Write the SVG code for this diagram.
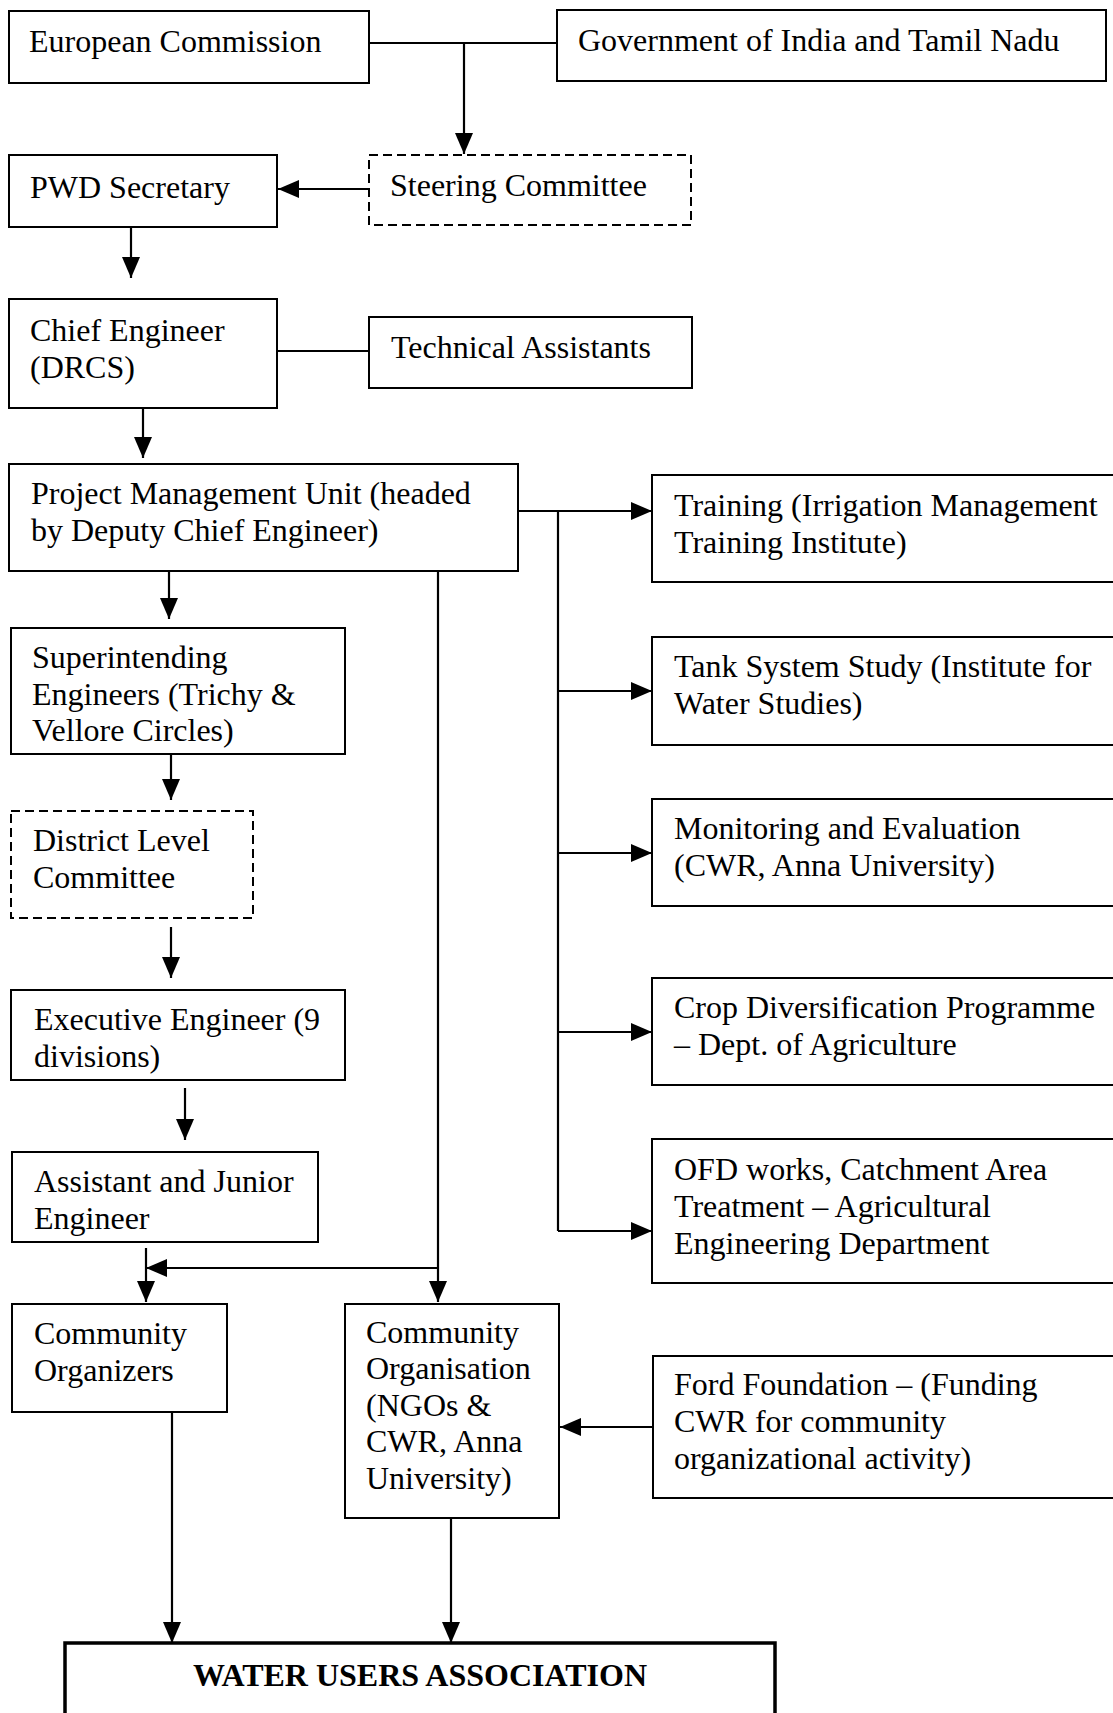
<svg xmlns="http://www.w3.org/2000/svg" width="1113" height="1713" viewBox="0 0 1113 1713">
<style>
.box{fill:#fff;stroke:#000;stroke-width:2}
.dash{fill:#fff;stroke:#000;stroke-width:2;stroke-dasharray:9 5}
.wua{fill:#fff;stroke:#000;stroke-width:3.5}
text{font-family:"Liberation Serif","Times New Roman",serif;font-size:32px;fill:#000}
.b{font-weight:bold;text-anchor:middle}
.c line,.c path{stroke:#000;stroke-width:2.2;fill:none}
</style>
<defs>
<marker id="ah" markerUnits="userSpaceOnUse" markerWidth="21" markerHeight="18" refX="21" refY="9" orient="auto">
<path d="M0,0 L21,9 L0,18 z" fill="#000"/>
</marker>
</defs>
<rect width="1113" height="1713" fill="#fff"/>
<g class="c" id="connectors">
<line x1="369" y1="43" x2="557" y2="43"/>
<line x1="464" y1="43" x2="464" y2="154" marker-end="url(#ah)"/>
<line x1="369" y1="189" x2="278" y2="189" marker-end="url(#ah)"/>
<line x1="131" y1="227" x2="131" y2="278" marker-end="url(#ah)"/>
<line x1="277" y1="351" x2="369" y2="351"/>
<line x1="143" y1="408" x2="143" y2="458" marker-end="url(#ah)"/>
<line x1="518" y1="511" x2="652" y2="511" marker-end="url(#ah)"/>
<line x1="558" y1="511" x2="558" y2="1231"/>
<line x1="558" y1="691" x2="652" y2="691" marker-end="url(#ah)"/>
<line x1="558" y1="853" x2="652" y2="853" marker-end="url(#ah)"/>
<line x1="558" y1="1032" x2="652" y2="1032" marker-end="url(#ah)"/>
<line x1="558" y1="1231" x2="652" y2="1231" marker-end="url(#ah)"/>
<line x1="169" y1="571" x2="169" y2="619" marker-end="url(#ah)"/>
<line x1="438" y1="571" x2="438" y2="1302" marker-end="url(#ah)"/>
<line x1="438" y1="1268" x2="146" y2="1268" marker-end="url(#ah)"/>
<line x1="146" y1="1248" x2="146" y2="1302" marker-end="url(#ah)"/>
<line x1="171" y1="755" x2="171" y2="800" marker-end="url(#ah)"/>
<line x1="171" y1="927" x2="171" y2="978" marker-end="url(#ah)"/>
<line x1="185" y1="1088" x2="185" y2="1140" marker-end="url(#ah)"/>
<line x1="172" y1="1413" x2="172" y2="1643" marker-end="url(#ah)"/>
<line x1="451" y1="1518" x2="451" y2="1643" marker-end="url(#ah)"/>
<line x1="653" y1="1427" x2="560" y2="1427" marker-end="url(#ah)"/>
</g>
<g id="european-commission"><rect class="box" x="9" y="11" width="360" height="72"/><text x="29" y="52">European Commission</text></g>
<g id="government"><rect class="box" x="557" y="10" width="549" height="71"/><text x="578" y="51">Government of India and Tamil Nadu</text></g>
<g id="steering-committee"><rect class="dash" x="369" y="155" width="322" height="70"/><text x="390" y="196">Steering Committee</text></g>
<g id="pwd-secretary"><rect class="box" x="9" y="155" width="268" height="72"/><text x="30" y="198">PWD Secretary</text></g>
<g id="chief-engineer"><rect class="box" x="9" y="299" width="268" height="109"/><text x="30" y="341">Chief Engineer</text><text x="30" y="378">(DRCS)</text></g>
<g id="technical-assistants"><rect class="box" x="369" y="317" width="323" height="71"/><text x="391" y="358">Technical Assistants</text></g>
<g id="pmu"><rect class="box" x="9" y="464" width="509" height="107"/><text x="31" y="504">Project Management Unit (headed</text><text x="31" y="541">by Deputy Chief Engineer)</text></g>
<g id="training"><rect class="box" x="652" y="475" width="480" height="107"/><text x="674" y="516">Training (Irrigation Management</text><text x="674" y="553">Training Institute)</text></g>
<g id="tank-study"><rect class="box" x="652" y="637" width="480" height="108"/><text x="674" y="677">Tank System Study (Institute for</text><text x="674" y="714">Water Studies)</text></g>
<g id="monitoring"><rect class="box" x="652" y="799" width="480" height="107"/><text x="674" y="839">Monitoring and Evaluation</text><text x="674" y="876">(CWR, Anna University)</text></g>
<g id="crop"><rect class="box" x="652" y="978" width="480" height="107"/><text x="674" y="1018">Crop Diversification Programme</text><text x="674" y="1055">– Dept. of Agriculture</text></g>
<g id="ofd"><rect class="box" x="652" y="1139" width="480" height="144"/><text x="674" y="1180">OFD works, Catchment Area</text><text x="674" y="1217">Treatment – Agricultural</text><text x="674" y="1254">Engineering Department</text></g>
<g id="superintending"><rect class="box" x="11" y="628" width="334" height="126"/><text x="32" y="668">Superintending</text><text x="32" y="705">Engineers (Trichy &amp;</text><text x="32" y="741">Vellore Circles)</text></g>
<g id="district-committee"><rect class="dash" x="11" y="811" width="242" height="107"/><text x="33" y="851">District Level</text><text x="33" y="888">Committee</text></g>
<g id="executive-engineer"><rect class="box" x="11" y="990" width="334" height="90"/><text x="34" y="1030">Executive Engineer (9</text><text x="34" y="1067">divisions)</text></g>
<g id="assistant-junior"><rect class="box" x="12" y="1152" width="306" height="90"/><text x="34" y="1192">Assistant and Junior</text><text x="34" y="1229">Engineer</text></g>
<g id="community-organizers"><rect class="box" x="12" y="1304" width="215" height="108"/><text x="34" y="1344">Community</text><text x="34" y="1381">Organizers</text></g>
<g id="community-organisation"><rect class="box" x="345" y="1304" width="214" height="214"/><text x="366" y="1343">Community</text><text x="366" y="1379">Organisation</text><text x="366" y="1416">(NGOs &amp;</text><text x="366" y="1452">CWR, Anna</text><text x="366" y="1489">University)</text></g>
<g id="ford-foundation"><rect class="box" x="653" y="1356" width="480" height="142"/><text x="674" y="1395">Ford Foundation – (Funding</text><text x="674" y="1432">CWR for community</text><text x="674" y="1469">organizational activity)</text></g>
<g id="wua"><rect class="wua" x="65" y="1643" width="710" height="100"/><text class="b" x="420" y="1686" font-size="32.5">WATER USERS ASSOCIATION</text></g>
</svg>
